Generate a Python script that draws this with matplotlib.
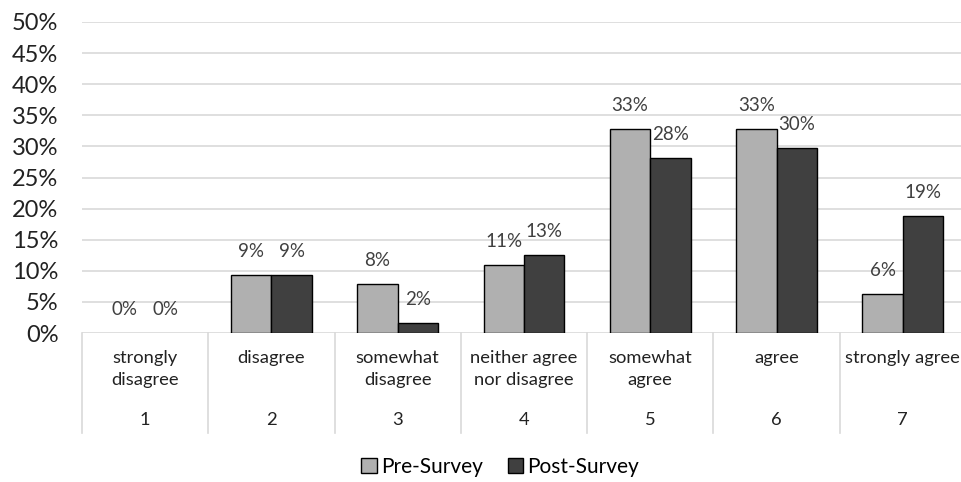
import matplotlib
matplotlib.use("Agg")
import matplotlib.pyplot as plt
from matplotlib.patches import Patch
import numpy as np

plt.rcParams['font.family'] = ['Lato', 'DejaVu Sans']

# survey responses, share of respondents (%)
categories = ["strongly\ndisagree", "disagree", "somewhat\ndisagree",
              "neither agree\nnor disagree", "somewhat\nagree", "agree",
              "strongly agree"]
scale_points = ["1", "2", "3", "4", "5", "6", "7"]
pre_survey = [0.0, 9.375, 7.8125, 10.9375, 32.8125, 32.8125, 6.25]
post_survey = [0.0, 9.375, 1.5625, 12.5, 28.125, 29.6875, 18.75]
series_names = ["Pre-Survey", "Post-Survey"]
y_ticks = [0, 5, 10, 15, 20, 25, 30, 35, 40, 45, 50]

pre_color = "#b0b0b0"
post_color = "#404040"
grid_color = "#d9d9d9"

fig = plt.figure(figsize=(9.62, 4.82), dpi=100)
ax = fig.add_axes([82 / 962, 149 / 482, 884 / 962, 311 / 482])

x = np.arange(1, len(categories) + 1)
w = 0.32
for xs, vals, col in ((x - w / 2, pre_survey, pre_color), (x + w / 2, post_survey, post_color)):
    # empty bars get no outline
    lws = [1 if v > 0 else 0 for v in vals]
    ax.bar(xs, vals, w, color=col, edgecolor="black", linewidth=lws, zorder=3)


def pct(v):
    return "%d%%" % int(v + 0.5)


for xs, vals in ((x - w / 2, pre_survey), (x + w / 2, post_survey)):
    for xi, v in zip(xs, vals):
        ax.annotate(pct(v), xy=(xi, v), xytext=(0, 17), textcoords="offset points",
                    ha="center", va="center", fontsize=13.5, color="#404040")

ax.set_xlim(0.5, len(categories) + 0.5)
ax.set_ylim(0, 50)
ax.set_yticks(y_ticks)
ax.set_yticklabels(["%d%%" % t for t in y_ticks])
ax.tick_params(axis="y", length=0, pad=17, labelsize=17, labelcolor="#222222")
ax.set_xticks([])
for s in ax.spines.values():
    s.set_visible(False)
for t in y_ticks:
    ax.axhline(t, color=grid_color, linewidth=1.2, zorder=1)

# category table below the axis
trans = ax.get_xaxis_transform()
for b in np.arange(0.5, len(categories) + 1):
    ax.plot([b, b], [0, -0.322], transform=trans, color=grid_color,
            linewidth=1.2, clip_on=False)
for xi, cat, num in zip(x, categories, scale_points):
    ax.annotate(cat, xy=(xi, 0), xycoords=trans, xytext=(0, -12.5),
                textcoords="offset points", ha="center", va="top",
                fontsize=13.2, color="#222222", linespacing=1.45)
    ax.annotate(num, xy=(xi, 0), xycoords=trans, xytext=(0, -62.5),
                textcoords="offset points", ha="center", va="center",
                fontsize=13.2, color="#222222")

handles = [Patch(facecolor=pre_color, edgecolor="black", linewidth=1),
           Patch(facecolor=post_color, edgecolor="black", linewidth=1)]
fig.legend(handles, series_names, loc="center", bbox_to_anchor=(500 / 962, 1 - 467 / 482),
           ncol=2, frameon=False, fontsize=15, handlelength=0.75, handleheight=0.75,
           handletextpad=0.2, columnspacing=1.2)

fig.savefig("out.png", dpi=100)
